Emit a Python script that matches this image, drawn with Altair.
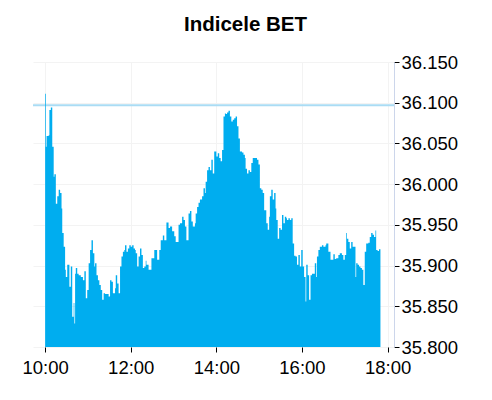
import altair as alt
import pandas as pd

times = [
    "10:00", "10:01", "10:02", "10:05", "10:06", "10:08", "10:10", "10:12", "10:13", "10:15",
    "10:17", "10:19", "10:21", "10:23", "10:24", "10:26", "10:28", "10:29", "10:31", "10:34",
    "10:36", "10:38", "10:40", "10:41", "10:42", "10:43", "10:45", "10:47", "10:50", "10:53",
    "10:55", "10:57", "10:59", "11:01", "11:03", "11:05", "11:07", "11:09", "11:10", "11:12",
    "11:14", "11:16", "11:18", "11:20", "11:22", "11:24", "11:29", "11:31", "11:33", "11:35",
    "11:38", "11:39", "11:41", "11:43", "11:45", "11:47", "11:49", "11:51", "11:52", "11:54",
    "11:56", "11:58", "12:00", "12:02", "12:04", "12:06", "12:07", "12:09", "12:11", "12:13",
    "12:15", "12:17", "12:19", "12:21", "12:22", "12:25", "12:27", "12:29", "12:33", "12:37",
    "12:40", "12:42", "12:45", "12:47", "12:50", "12:53", "12:55", "12:58", "13:01", "13:03",
    "13:07", "13:09", "13:12", "13:14", "13:16", "13:18", "13:21", "13:23", "13:25", "13:27",
    "13:30", "13:31", "13:33", "13:35", "13:37", "13:40", "13:42", "13:44", "13:45", "13:47",
    "13:49", "13:51", "13:53", "13:55", "13:57", "14:00", "14:02", "14:04", "14:06", "14:08",
    "14:10", "14:12", "14:13", "14:15", "14:17", "14:19", "14:21", "14:23", "14:25", "14:27",
    "14:29", "14:31", "14:33", "14:36", "14:38", "14:40", "14:41", "14:43", "14:45", "14:47",
    "14:49", "14:51", "14:57", "14:59", "15:01", "15:03", "15:05", "15:07", "15:10", "15:12",
    "15:14", "15:15", "15:17", "15:19", "15:21", "15:23", "15:24", "15:26", "15:28", "15:30",
    "15:32", "15:34", "15:36", "15:38", "15:39", "15:41", "15:43", "15:45", "15:47", "15:49",
    "15:51", "15:53", "15:55", "15:57", "15:59", "16:01", "16:03", "16:05", "16:06", "16:08",
    "16:10", "16:12", "16:14", "16:18", "16:20", "16:21", "16:23", "16:25", "16:28", "16:30",
    "16:33", "16:34", "16:37", "16:40", "16:42", "16:44", "16:46", "16:48", "16:51", "16:53",
    "16:56", "16:58", "17:00", "17:02", "17:03", "17:05", "17:07", "17:09", "17:11", "17:15",
    "17:16", "17:18", "17:20", "17:22", "17:24", "17:26", "17:28", "17:30", "17:33", "17:35",
    "17:37", "17:39", "17:41", "17:43", "17:44", "17:46", "17:48", "17:50",
]

values = [
    36.111, 36.046, 36.059, 36.060, 36.091, 36.094, 36.046, 36.009, 36.012, 35.976,
    35.985, 35.993, 35.989, 35.970, 35.940, 35.923, 35.895, 35.886, 35.901, 35.874,
    35.899, 35.837, 35.854, 35.829, 35.890, 35.897, 35.890, 35.888, 35.886, 35.882,
    35.893, 35.860, 35.870, 35.903, 35.919, 35.931, 35.915, 35.899, 35.903, 35.888,
    35.882, 35.876, 35.870, 35.858, 35.866, 35.865, 35.862, 35.882, 35.880, 35.866,
    35.872, 35.888, 35.878, 35.866, 35.899, 35.911, 35.917, 35.919, 35.925, 35.917,
    35.921, 35.925, 35.923, 35.925, 35.921, 35.919, 35.915, 35.899, 35.911, 35.921,
    35.913, 35.897, 35.899, 35.906, 35.901, 35.895, 35.895, 35.909, 35.919, 35.907,
    35.919, 35.931, 35.937, 35.931, 35.953, 35.946, 35.948, 35.942, 35.936, 35.929,
    35.950, 35.952, 35.960, 35.956, 35.948, 35.931, 35.964, 35.967, 35.954, 35.948,
    35.952, 35.964, 35.972, 35.977, 35.981, 35.985, 35.995, 35.989, 36.003, 36.017,
    36.021, 36.017, 36.030, 36.013, 36.040, 36.034, 36.038, 36.032, 36.028, 36.042,
    36.083, 36.087, 36.086, 36.088, 36.090, 36.083, 36.077, 36.079, 36.081, 36.083,
    36.071, 36.056, 36.040, 36.039, 36.036, 36.032, 36.019, 36.013, 36.017, 36.015,
    36.026, 36.032, 36.030, 36.024, 35.995, 35.993, 35.989, 35.968, 35.952, 35.944,
    35.960, 35.985, 35.993, 35.981, 35.989, 35.970, 35.956, 35.933, 35.946, 35.944,
    35.962, 35.952, 35.960, 35.958, 35.956, 35.958, 35.956, 35.958, 35.927, 35.912,
    35.911, 35.901, 35.913, 35.899, 35.919, 35.899, 35.886, 35.856, 35.901, 35.888,
    35.858, 35.888, 35.890, 35.903, 35.886, 35.911, 35.919, 35.923, 35.925, 35.923,
    35.925, 35.927, 35.917, 35.907, 35.907, 35.914, 35.908, 35.909, 35.913, 35.915,
    35.913, 35.907, 35.913, 35.940, 35.933, 35.929, 35.921, 35.929, 35.923, 35.886,
    35.903, 35.901, 35.899, 35.897, 35.895, 35.876, 35.917, 35.927, 35.928, 35.935,
    35.940, 35.938, 35.935, 35.943, 35.919, 35.918, 35.920, 35.895,
]

reference_value = [36.097]
y_ticks = [35.80, 35.85, 35.90, 35.95, 36.00, 36.05, 36.10, 36.15]
x_tick_hours = [10, 12, 14, 16, 18]


def dt(h, m=0):
    return alt.DateTime(year=2024, month=1, date=15, hours=h, minutes=m)


df = pd.DataFrame({
    "t": ["2024-01-15T" + t + ":00" for t in times],
    "v": values,
})
ref = pd.DataFrame({"v": reference_value})

x_enc = alt.X(
    "t:T",
    scale=alt.Scale(domain=[dt(9, 43), dt(18, 9)]),
    axis=alt.Axis(
        format="%H:%M",
        values=[dt(h) for h in x_tick_hours],
        domain=False,
        ticks=True,
        tickColor="#000000",
        tickSize=5,
        labelFontSize=18.5,
        labelColor="#000000",
        labelFont="Liberation Sans",
        labelPadding=6,
        gridColor="#f3f3f3",
        title=None,
    ),
)

y_axis = alt.Axis(
    orient="right",
    values=y_ticks,
    format=".3f",
    domain=True,
    domainColor="#ccd6eb",
    tickColor="#000000",
    tickSize=5,
    labelFontSize=18.5,
    labelColor="#000000",
    labelFont="Liberation Sans",
    labelPadding=2,
    gridColor="#f3f3f3",
    title=None,
)
y_scale = alt.Scale(domain=[35.8, 36.15], zero=False, nice=False)

rule = alt.Chart(ref).mark_rule(color="#aadcf4", strokeWidth=2).encode(
    y=alt.Y("v:Q", scale=y_scale, axis=y_axis)
)

area = alt.Chart(df).mark_area(
    interpolate="step-after", color="#00adef", clip=True
).encode(x=x_enc, y=alt.Y("v:Q", scale=y_scale, axis=y_axis))

chart = (
    alt.layer(rule, area)
    .properties(
        width=361,
        height=285,
        title=alt.TitleParams(
            "Indicele BET",
            font="Liberation Sans",
            fontSize=20.5,
            fontWeight="bold",
            color="#000000",
            anchor="middle",
            frame="group",
            dx=32,
            offset=18,
        ),
        autosize=alt.AutoSizeParams(type="none"),
        padding={"left": 25, "top": 54, "right": 90, "bottom": 45},
    )
    .configure_view(stroke=None)
)

chart.save("out.html", embed_options={"renderer": "svg", "actions": False})
